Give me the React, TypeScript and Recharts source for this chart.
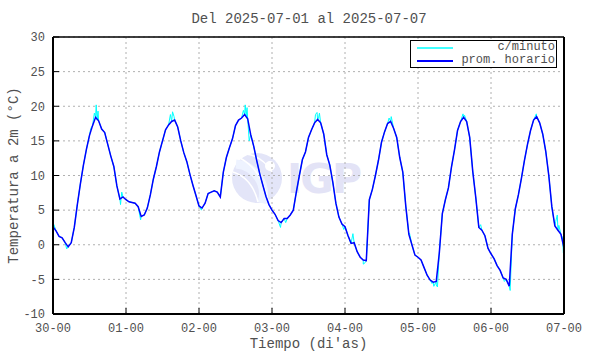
import { LineChart, Line, XAxis, YAxis, CartesianGrid, Legend } from "recharts";

const mono = "'Liberation Mono', 'DejaVu Sans Mono', monospace";
const textGrey = "#505050";

const dayLabels = ["30-00", "01-00", "02-00", "03-00", "04-00", "05-00", "06-00", "07-00"];
const hourTicks = [0, 24, 48, 72, 96, 120, 144, 168];
const tempTicks = [-10, -5, 0, 5, 10, 15, 20, 25, 30];

// promedio horario, 30-00 .. 07-00 (169 horas)
const hourlyTemp = [
  2.6, 2.0, 1.2, 1.0, 0.3, -0.3, 0.3, 2.5, 5.8, 8.8, 11.5, 13.8, 15.8, 17.2, 18.4, 17.9, 16.7, 16.2, 14.5, 12.8, 11.3, 8.5, 6.6, 6.9,
  6.5, 6.2, 6.1, 6.0, 5.5, 4.1, 4.3, 5.3, 7.2, 9.5, 11.3, 13.4, 15.0, 16.6, 17.3, 17.8, 18.0, 17.0, 15.0, 13.3, 12.0, 10.2, 8.6, 7.1,
  5.6, 5.3, 6.0, 7.4, 7.6, 7.8, 7.6, 6.9, 10.5, 12.6, 14.0, 15.3, 17.2, 18.0, 18.3, 18.8, 18.2, 15.9, 14.2, 12.1, 10.2, 8.6, 7.0, 5.8,
  5.0, 4.4, 3.5, 3.2, 3.8, 3.8, 4.3, 5.0, 7.6, 10.0, 12.3, 13.4, 15.5, 16.6, 17.6, 18.1, 17.6, 16.0, 13.0, 11.5, 9.0, 6.0, 4.0, 3.0,
  2.6, 1.3, 0.2, 0.3, -1.0, -1.8, -2.2, -2.3, 6.5, 8.0, 10.0, 12.2, 14.8, 16.3, 17.5, 17.8, 16.8, 15.5, 12.6, 10.5, 5.5, 1.5, 0.0, -1.5,
  -1.8, -2.2, -3.3, -4.4, -5.1, -5.4, -5.3, -1.2, 4.5, 6.5, 8.2, 11.2, 13.7, 16.5, 17.8, 18.4, 17.8, 15.5, 10.6, 6.8, 2.5, 2.1, 1.3, -0.5,
  -1.3, -2.0, -3.0, -3.7, -4.8, -5.0, -6.0, 1.5, 5.2, 7.2, 9.6, 12.2, 14.5, 16.5, 18.0, 18.5, 17.6, 16.0, 13.5, 10.0, 5.5, 2.7, 2.1, 1.5,
  -0.5,
];

// lecturas por minuto que se salen del promedio [hora, °C]
const minuteSpikes: [number, number][] = [
  [0.3, 2.9], [4.5, -0.6], [12.4, 16.8], [13.6, 19.0], [14.2, 20.2], [14.5, 18.0], [14.8, 19.3],
  [22.2, 5.8], [22.6, 7.6], [28.8, 3.6], [38.6, 18.8], [39.3, 19.2], [39.8, 18.5],
  [48.8, 5.0], [62.6, 19.4], [63.2, 20.2], [63.5, 18.6], [63.8, 19.8], [64.5, 15.0],
  [74.8, 2.5], [76.5, 3.2], [86.3, 18.8], [86.8, 19.1], [87.3, 18.3], [87.6, 19.0],
  [95.6, 2.2], [98.6, 1.6], [102.0, -2.8], [102.6, -2.6], [110.5, 18.3], [111.2, 18.5],
  [117.2, 1.7], [124.6, -5.6], [125.2, -6.0], [126.0, -5.8], [126.4, -6.1],
  [134.8, 18.9], [135.3, 18.7], [140.6, 2.9], [148.4, -5.3], [149.6, -5.6], [150.3, -6.6],
  [158.9, 18.9], [165.3, 3.4], [165.8, 4.3], [166.3, 2.8], [167.5, 1.0], [167.8, -1.2],
];

const series = [
  { name: "c/minuto", color: "#00ffff", width: 1 },
  { name: "prom. horario", color: "#0000ff", width: 1.5 },
];

const hourlyRows = hourlyTemp.map((v, i) => ({ t: i, v }));
const minuteRows = [...hourlyRows, ...minuteSpikes.map(([t, v]) => ({ t, v }))].sort((a, b) => a.t - b.t);

const tickStyle = { fill: textGrey, fontSize: 12, fontFamily: mono };

function KeyBox() {
  return (
    <div
      style={{
        border: "1px solid #000",
        width: 147,
        height: 28,
        boxSizing: "border-box",
        background: "#fff",
        fontFamily: mono,
        fontSize: 12,
        color: textGrey,
      }}
    >
      {series.map((s) => (
        <div key={s.name} style={{ display: "flex", alignItems: "center", height: 13 }}>
          <svg width={44} height={13}>
            <line x1={6} x2={42} y1={7} y2={7} stroke={s.color} strokeWidth={s.width + 0.3} />
          </svg>
          <span style={{ flex: 1, textAlign: "right", paddingRight: 1, lineHeight: "13px" }}>{s.name}</span>
        </div>
      ))}
    </div>
  );
}

function Watermark() {
  return (
    <svg width={590} height={354} style={{ position: "absolute", left: 0, top: 0 }}>
      <circle cx={257} cy={178} r={25} fill="#e3e5f8" />
      <path d="M236 164 A 30 30 0 0 1 262 203" stroke="#eef3ff" strokeWidth={9} fill="none" />
      <path d="M240 158 Q 262 170 268 200" stroke="#fff" strokeWidth={1.5} fill="none" />
      <path d="M233 172 Q 252 178 258 202" stroke="#fff" strokeWidth={1.5} fill="none" />
      <path d="M246 154 Q 262 156 272 172" stroke="#fff" strokeWidth={1.5} fill="none" />
      <circle cx={270} cy={166} r={5} fill="#fff" />
      <text x={287} y={193} fontFamily="'DejaVu Sans', sans-serif" fontWeight="bold" fontSize={41} letterSpacing={-2} fill="#e3e3f6">
        IGP
      </text>
    </svg>
  );
}

export default function App() {
  return (
    <div style={{ position: "absolute", left: 0, top: 0, width: 590, height: 354, background: "#fff" }}>
      <Watermark />
      <div style={{ position: "absolute", left: 0, top: 0 }}>
        <LineChart width={590} height={354} margin={{ top: 36, right: 25, bottom: 0, left: 0 }}>
          <CartesianGrid stroke="#b0b0b0" strokeDasharray="2 3" />
          <XAxis
            dataKey="t"
            type="number"
            domain={[0, 168]}
            ticks={hourTicks}
            tickFormatter={(t: number) => dayLabels[Math.round(t / 24)]}
            height={40}
            tickSize={-6}
            tickMargin={15}
            tick={tickStyle}
            axisLine={{ stroke: "#000", strokeWidth: 2 }}
            tickLine={{ stroke: "#000" }}
            allowDataOverflow
            label={{ value: "Tiempo (di'as)", position: "insideBottom", offset: 6, fill: textGrey, fontSize: 14, fontFamily: mono }}
          />
          <XAxis
            xAxisId="top"
            orientation="top"
            dataKey="t"
            type="number"
            domain={[0, 168]}
            ticks={hourTicks}
            tickFormatter={() => ""}
            height={1}
            tickSize={-6}
            axisLine={{ stroke: "#000", strokeWidth: 1.5 }}
            tickLine={{ stroke: "#000" }}
          />
          <YAxis
            type="number"
            domain={[-10, 30]}
            ticks={tempTicks}
            width={53}
            tickSize={-6}
            tickMargin={14}
            tick={tickStyle}
            axisLine={{ stroke: "#000", strokeWidth: 2 }}
            tickLine={{ stroke: "#000" }}
            allowDataOverflow
            label={{
              value: "Temperatura a 2m (°C)",
              angle: -90,
              position: "insideLeft",
              offset: 13,
              fill: textGrey,
              fontSize: 14,
              fontFamily: mono,
              style: { textAnchor: "middle" },
            }}
          />
          <YAxis
            yAxisId="right"
            orientation="right"
            type="number"
            domain={[-10, 30]}
            ticks={tempTicks}
            tickFormatter={() => ""}
            width={1}
            tickSize={-6}
            axisLine={{ stroke: "#000", strokeWidth: 2 }}
            tickLine={{ stroke: "#000" }}
          />
          <Legend
            content={<KeyBox />}
            layout="vertical"
            align="center"
            verticalAlign="middle"
            wrapperStyle={{ left: 410, top: 40, width: 147, height: 28 }}
          />
          <Line
            data={minuteRows}
            dataKey="v"
            name="c/minuto"
            type="linear"
            stroke="#00ffff"
            strokeWidth={1}
            dot={false}
            activeDot={false}
            isAnimationActive={false}
          />
          <Line
            data={hourlyRows}
            dataKey="v"
            name="prom. horario"
            type="linear"
            stroke="#0000ff"
            strokeWidth={1.5}
            dot={false}
            activeDot={false}
            isAnimationActive={false}
          />
        </LineChart>
      </div>
      <div
        style={{
          position: "absolute",
          left: 0,
          top: 11,
          width: 618,
          textAlign: "center",
          fontFamily: mono,
          fontSize: 14,
          lineHeight: "17px",
          color: textGrey,
        }}
      >
        Del 2025-07-01 al 2025-07-07
      </div>
    </div>
  );
}
